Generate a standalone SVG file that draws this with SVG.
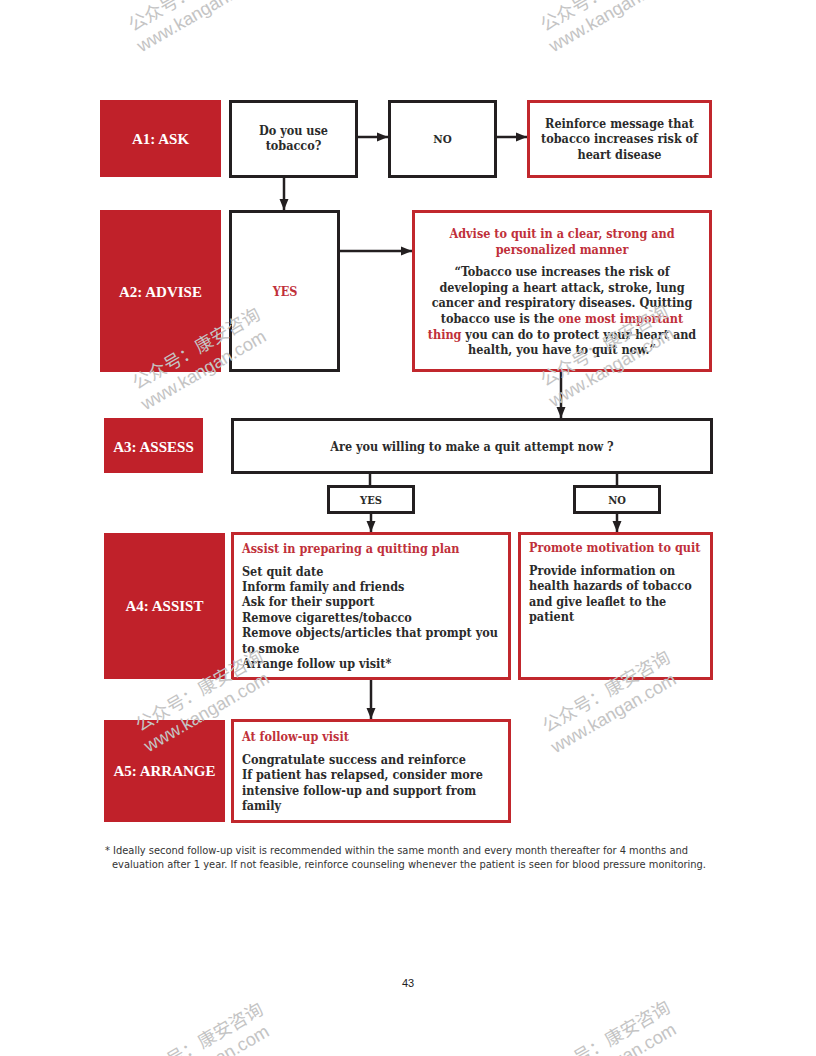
<svg xmlns="http://www.w3.org/2000/svg" width="816" height="1056" viewBox="0 0 816 1056">
<defs>
<style>
.lab{fill:#c0212a}
.labt{fill:#fff;font-family:"Liberation Serif",serif;font-weight:bold;font-size:15px;text-anchor:middle}
.bk{fill:#fff;stroke:#231f20;stroke-width:3}
.rd{fill:#fff;stroke:#c1272d;stroke-width:3}
.t{font-family:"DejaVu Serif Condensed","DejaVu Serif",serif;font-stretch:condensed;font-weight:bold;font-size:12.5px;fill:#2b2b2b}
.c{text-anchor:middle}
.r{fill:#c0303a}
.con{stroke:#231f20;stroke-width:2.5;fill:none}
.fn{font-family:"Liberation Sans Narrow","DejaVu Sans Condensed","Liberation Sans",sans-serif;font-size:10.5px;fill:#333}
.wm{font-family:"Liberation Sans","Noto Sans CJK SC",sans-serif;font-size:18px;fill:#c4c4c4}
</style>
<marker id="ah" markerUnits="userSpaceOnUse" markerWidth="12" markerHeight="12" viewBox="0 0 12 12" refX="11" refY="6" orient="auto">
<path d="M0,1.5 L11,6 L0,10.5 Z" fill="#231f20"/>
</marker>
</defs>
<rect width="816" height="1056" fill="#fff"/>

<g id="connectors">
<line class="con" x1="357" y1="137" x2="388" y2="137" marker-end="url(#ah)"/>
<line class="con" x1="496" y1="137" x2="527" y2="137" marker-end="url(#ah)"/>
<line class="con" x1="284" y1="178" x2="284" y2="210" marker-end="url(#ah)"/>
<line class="con" x1="339" y1="251" x2="412" y2="251" marker-end="url(#ah)"/>
<line class="con" x1="561" y1="372" x2="561" y2="418" marker-end="url(#ah)"/>
<line class="con" x1="370" y1="474" x2="370" y2="486"/>
<line class="con" x1="617" y1="474" x2="617" y2="486"/>
<line class="con" x1="371" y1="514" x2="371" y2="532" marker-end="url(#ah)"/>
<line class="con" x1="617" y1="514" x2="617" y2="532" marker-end="url(#ah)"/>
<line class="con" x1="371" y1="680" x2="371" y2="719" marker-end="url(#ah)"/>
</g>

<g id="a1">
<rect class="lab" x="100" y="100" width="121" height="77"/>
<text class="labt" x="160.5" y="144">A1: ASK</text>
</g>
<g id="ask">
<rect class="bk" x="230.5" y="101.5" width="126" height="75"/>
<text class="t c" x="293.5" y="135">Do you use</text>
<text class="t c" x="293.5" y="150">tobacco?</text>
</g>
<g id="no1">
<rect class="bk" x="389.5" y="101.5" width="106" height="75"/>
<text class="t c" x="442.5" y="143" style="font-size:11.5px">NO</text>
</g>
<g id="reinforce">
<rect class="rd" x="528.5" y="101.5" width="182" height="75"/>
<text class="t c" x="619.5" y="128">Reinforce message that</text>
<text class="t c" x="619.5" y="143">tobacco increases risk of</text>
<text class="t c" x="619.5" y="159">heart disease</text>
</g>

<g id="a2">
<rect class="lab" x="100" y="210" width="121" height="162"/>
<text class="labt" x="160.5" y="297">A2: ADVISE</text>
</g>
<g id="yes1">
<rect class="bk" x="230.5" y="211.5" width="108" height="159"/>
<text class="t c r" x="285" y="296">YES</text>
</g>
<g id="advise">
<rect class="rd" x="413.5" y="211.5" width="297" height="159"/>
<text class="t c r" x="562" y="238">Advise to quit in a clear, strong and</text>
<text class="t c r" x="562" y="254">personalized manner</text>
<text class="t c" x="562" y="276">“Tobacco use increases the risk of</text>
<text class="t c" x="562" y="292">developing a heart attack, stroke, lung</text>
<text class="t c" x="562" y="307">cancer and respiratory diseases. Quitting</text>
<text class="t c" x="562" y="323">tobacco use is the <tspan class="r">one most important</tspan></text>
<text class="t c" x="562" y="339"><tspan class="r">thing</tspan> you can do to protect your heart and</text>
<text class="t c" x="562" y="354">health, you have to quit now.”</text>
</g>

<g id="a3">
<rect class="lab" x="104" y="418" width="99" height="55"/>
<text class="labt" x="153.5" y="452">A3: ASSESS</text>
</g>
<g id="assess">
<rect class="bk" x="232.5" y="419.5" width="479" height="53"/>
<text class="t c" x="472" y="451">Are you willing to make a quit attempt now ?</text>
</g>
<g id="yes2">
<rect class="bk" x="328.5" y="486.5" width="85" height="26"/>
<text class="t c" x="371" y="504" style="font-size:11px">YES</text>
</g>
<g id="no2">
<rect class="bk" x="574.5" y="486.5" width="85" height="26"/>
<text class="t c" x="617" y="504" style="font-size:11px">NO</text>
</g>

<g id="a4">
<rect class="lab" x="104" y="533" width="121" height="146"/>
<text class="labt" x="164.5" y="611">A4: ASSIST</text>
</g>
<g id="assist">
<rect class="rd" x="232.5" y="533.5" width="277" height="145"/>
<text class="t r" x="242" y="553">Assist in preparing a quitting plan</text>
<text class="t" x="242" y="576">Set quit date</text>
<text class="t" x="242" y="591">Inform family and friends</text>
<text class="t" x="242" y="606">Ask for their support</text>
<text class="t" x="242" y="622">Remove cigarettes/tobacco</text>
<text class="t" x="242" y="637">Remove objects/articles that prompt you</text>
<text class="t" x="242" y="653">to smoke</text>
<text class="t" x="242" y="668">Arrange follow up visit*</text>
</g>
<g id="promote">
<rect class="rd" x="519.5" y="533.5" width="192" height="145"/>
<text class="t r" x="529" y="552">Promote motivation to quit</text>
<text class="t" x="529" y="575">Provide information on</text>
<text class="t" x="529" y="590">health hazards of tobacco</text>
<text class="t" x="529" y="606">and give leaflet to the</text>
<text class="t" x="529" y="621">patient</text>
</g>

<g id="a5">
<rect class="lab" x="104" y="720" width="121" height="102"/>
<text class="labt" x="164.5" y="776">A5: ARRANGE</text>
</g>
<g id="arrange">
<rect class="rd" x="232.5" y="720.5" width="277" height="101"/>
<text class="t r" x="242" y="741">At follow-up visit</text>
<text class="t" x="242" y="764">Congratulate success and reinforce</text>
<text class="t" x="242" y="779">If patient has relapsed, consider more</text>
<text class="t" x="242" y="795">intensive follow-up and support from</text>
<text class="t" x="242" y="810">family</text>
</g>

<g id="footnote">
<text class="fn" x="105" y="854" textLength="583" lengthAdjust="spacingAndGlyphs">* Ideally second follow-up visit is recommended within the same month and every month thereafter for 4 months and</text>
<text class="fn" x="112" y="868" textLength="594" lengthAdjust="spacingAndGlyphs">evaluation after 1 year. If not feasible, reinforce counseling whenever the patient is seen for blood pressure monitoring.</text>
<text x="408" y="987" style="font-family:'Liberation Sans',sans-serif;font-size:11px;fill:#222;text-anchor:middle">43</text>
</g>

<g id="watermarks">
<g transform="translate(133,32) rotate(-30)"><text class="wm" x="0" y="0">公众号：康安咨询</text><text class="wm" x="-3" y="22">www.kangan.com</text></g>
<g transform="translate(545,32) rotate(-30)"><text class="wm" x="0" y="0">公众号：康安咨询</text><text class="wm" x="-3" y="22">www.kangan.com</text></g>
<g transform="translate(137,390) rotate(-30)"><text class="wm" x="0" y="0">公众号：康安咨询</text><text class="wm" x="-3" y="22">www.kangan.com</text></g>
<g transform="translate(545,387) rotate(-30)"><text class="wm" x="0" y="0">公众号：康安咨询</text><text class="wm" x="-3" y="22">www.kangan.com</text></g>
<g transform="translate(140,732) rotate(-30)"><text class="wm" x="0" y="0">公众号：康安咨询</text><text class="wm" x="-3" y="22">www.kangan.com</text></g>
<g transform="translate(547,733) rotate(-30)"><text class="wm" x="0" y="0">公众号：康安咨询</text><text class="wm" x="-3" y="22">www.kangan.com</text></g>
<g transform="translate(140,1085) rotate(-30)"><text class="wm" x="0" y="0">公众号：康安咨询</text><text class="wm" x="-3" y="22">www.kangan.com</text></g>
<g transform="translate(547,1083) rotate(-30)"><text class="wm" x="0" y="0">公众号：康安咨询</text><text class="wm" x="-3" y="22">www.kangan.com</text></g>
</g>
</svg>
